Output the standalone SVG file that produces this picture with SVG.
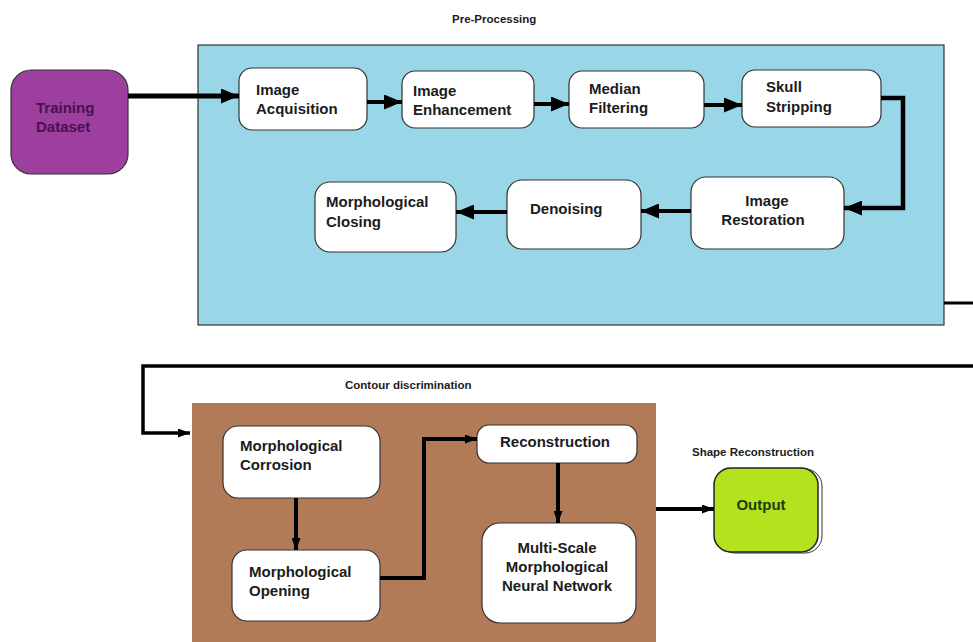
<svg xmlns="http://www.w3.org/2000/svg" width="973" height="642" viewBox="0 0 973 642">
<defs>
<style>
.box{fill:#ffffff;stroke:#333;stroke-width:1.2}
.t{font-family:"Liberation Sans",Arial,sans-serif;font-weight:bold;font-size:15px;fill:#1c1c1c}
.lbl{font-family:"Liberation Sans",Arial,sans-serif;font-weight:bold;font-size:11.5px;fill:#1c1c1c}
.c{fill:none;stroke:#000;stroke-linejoin:miter}
</style>
<marker id="ah" viewBox="0 0 10 10" refX="10" refY="5" markerWidth="18" markerHeight="15" markerUnits="userSpaceOnUse" orient="auto" preserveAspectRatio="none">
<path d="M0,0 L10,5 L0,10 Z" fill="#000"/>
</marker>
<marker id="ahs" viewBox="0 0 10 10" refX="10" refY="5" markerWidth="12" markerHeight="9" markerUnits="userSpaceOnUse" orient="auto" preserveAspectRatio="none">
<path d="M0,0 L10,5 L0,10 Z" fill="#000"/>
</marker>
</defs>
<rect width="973" height="642" fill="#fff"/>

<g id="preprocessing">
<rect x="198" y="45" width="746" height="280" fill="#98d6e8" stroke="#333" stroke-width="1.2"/>
<text class="lbl" x="452" y="23">Pre-Processing</text>
</g>
<g id="contour">
<rect x="192" y="403" width="464" height="245" fill="#b27b58"/>
<text class="lbl" x="345" y="389">Contour discrimination</text>
</g>

<g id="training">
<rect x="11" y="70" width="117" height="104" rx="20" fill="#9c3f9e" stroke="#333" stroke-width="1.2"/>
<text class="t" x="36" y="113" style="fill:#4a1050">Training</text>
<text class="t" x="36" y="132" style="fill:#4a1050">Dataset</text>
</g>
<g id="acquisition">
<rect class="box" x="239" y="68" width="128" height="62" rx="13"/>
<text class="t" x="256" y="95">Image</text>
<text class="t" x="256" y="114">Acquisition</text>
</g>
<g id="enhancement">
<rect class="box" x="402" y="71" width="132" height="57" rx="13"/>
<text class="t" x="413" y="96">Image</text>
<text class="t" x="413" y="115">Enhancement</text>
</g>
<g id="median">
<rect class="box" x="569" y="71" width="135" height="57" rx="13"/>
<text class="t" x="589" y="94">Median</text>
<text class="t" x="589" y="113">Filtering</text>
</g>
<g id="skull">
<rect class="box" x="742" y="70" width="139" height="57" rx="13"/>
<text class="t" x="766" y="92">Skull</text>
<text class="t" x="766" y="112">Stripping</text>
</g>
<g id="restoration">
<rect class="box" x="691" y="177" width="153" height="72" rx="15"/>
<text class="t" x="767" y="206" text-anchor="middle">Image</text>
<text class="t" x="763" y="225" text-anchor="middle">Restoration</text>
</g>
<g id="denoising">
<rect class="box" x="507" y="180" width="134" height="69" rx="15"/>
<text class="t" x="530" y="214">Denoising</text>
</g>
<g id="closing">
<rect class="box" x="315" y="182" width="141" height="70" rx="15"/>
<text class="t" x="326" y="207">Morphological</text>
<text class="t" x="326" y="227">Closing</text>
</g>

<g id="corrosion">
<rect class="box" x="223" y="426" width="157" height="72" rx="15"/>
<text class="t" x="240" y="451">Morphological</text>
<text class="t" x="240" y="470">Corrosion</text>
</g>
<g id="opening">
<rect class="box" x="232" y="550" width="148" height="71" rx="15"/>
<text class="t" x="249" y="577">Morphological</text>
<text class="t" x="249" y="596">Opening</text>
</g>
<g id="reconstruction">
<rect class="box" x="477" y="425" width="160" height="38" rx="12"/>
<text class="t" x="500" y="447">Reconstruction</text>
</g>
<g id="multiscale">
<rect class="box" x="482" y="523" width="154" height="100" rx="18"/>
<text class="t" x="557" y="553" text-anchor="middle">Multi-Scale</text>
<text class="t" x="557" y="572" text-anchor="middle">Morphological</text>
<text class="t" x="557" y="591" text-anchor="middle">Neural Network</text>
</g>
<g id="output">
<text class="lbl" x="692" y="456">Shape Reconstruction</text>
<rect x="718" y="469" width="104" height="84" rx="17" fill="#fff" stroke="#333" stroke-width="1"/>
<rect x="714" y="468" width="104" height="84" rx="17" fill="#b3e21f" stroke="#222" stroke-width="1.5"/>
<text class="t" x="761" y="510" text-anchor="middle" style="fill:#1e3a10">Output</text>
</g>

<g id="connectors">
<path class="c" d="M128,96 L239,96" stroke-width="5" marker-end="url(#ah)"/>
<path class="c" d="M367,102 L402,102" stroke-width="4" marker-end="url(#ah)"/>
<path class="c" d="M534,104 L569,104" stroke-width="4" marker-end="url(#ah)"/>
<path class="c" d="M704,105 L742,105" stroke-width="4" marker-end="url(#ah)"/>
<path class="c" d="M881,98 L903,98 L903,208 L844,208" stroke-width="4.5" marker-end="url(#ah)"/>
<path class="c" d="M691,211 L641,211" stroke-width="4" marker-end="url(#ah)"/>
<path class="c" d="M507,212 L456,212" stroke-width="4" marker-end="url(#ah)"/>
<path class="c" d="M944,303 L973,303" stroke-width="3"/>
<path class="c" d="M973,366 L143,366 L143,433 L190,433" stroke-width="3.5" marker-end="url(#ahs)"/>
<path class="c" d="M296,498 L296,550" stroke-width="4" marker-end="url(#ahs)"/>
<path class="c" d="M380,578 L424,578 L424,439 L477,439" stroke-width="4" marker-end="url(#ahs)"/>
<path class="c" d="M558,463 L558,523" stroke-width="4" marker-end="url(#ahs)"/>
<path class="c" d="M656,509 L714,509" stroke-width="4" marker-end="url(#ahs)"/>
</g>
</svg>
